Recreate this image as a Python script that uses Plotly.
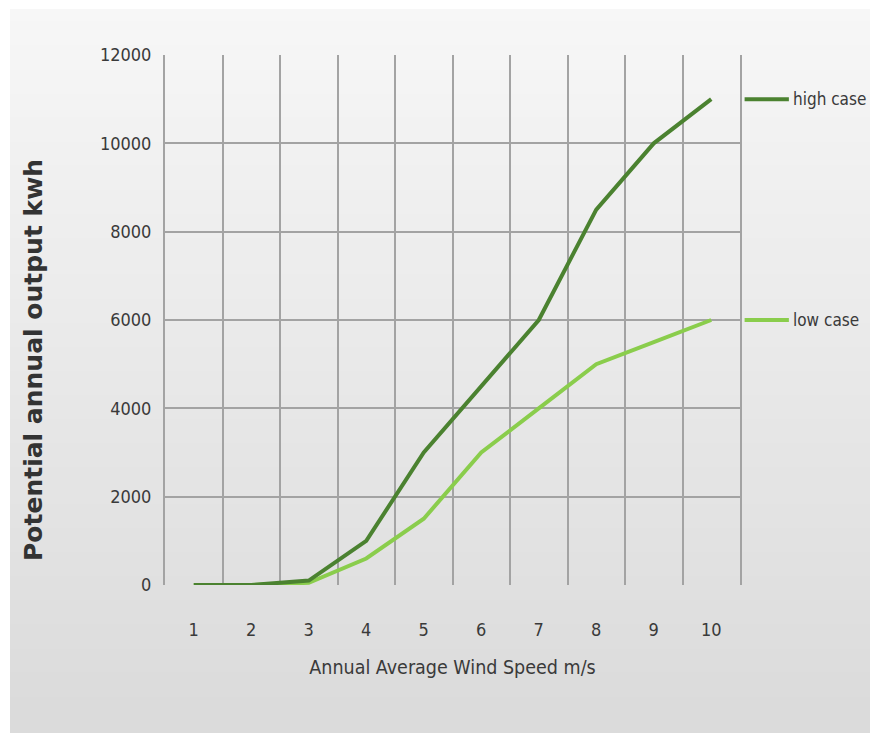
import plotly.graph_objects as go

wind_speed = [1, 2, 3, 4, 5, 6, 7, 8, 9, 10]
high_case = [0, 0, 100, 1000, 3000, 4500, 6000, 8500, 10000, 11000]
low_case = [0, 0, 50, 600, 1500, 3000, 4000, 5000, 5500, 6000]
y_ticks = [0, 2000, 4000, 6000, 8000, 10000, 12000]

HIGH_COLOR = "#4b8230"
LOW_COLOR = "#8acd4c"
GRID = "#a3a3a3"
NARROW = "DejaVu Sans Condensed, Liberation Sans Narrow, sans-serif"

fig = go.Figure()
fig.add_trace(go.Scatter(x=wind_speed, y=low_case, mode="lines", name="low case",
                         line=dict(color=LOW_COLOR, width=4), showlegend=False))
fig.add_trace(go.Scatter(x=wind_speed, y=high_case, mode="lines", name="high case",
                         line=dict(color=HIGH_COLOR, width=4), showlegend=False))

# gradient background made of horizontal bands
W, H = 872, 725
L, R, T, B = 157, 140, 47, 148
pw, ph = W - L - R, H - T - B
gx0, gx1 = (2 - L) / pw, (862 - L) / pw
gy_top, gy_bot = (H - B - 2) / ph, (H - B - 726) / ph
shapes = []
n = 60
for i in range(n):
    t = i / (n - 1)
    c = int(247 - (247 - 219) * t)
    y0 = gy_top - (gy_top - gy_bot) * i / n
    y1 = gy_top - (gy_top - gy_bot) * (i + 1) / n
    shapes.append(dict(type="rect", xref="paper", yref="paper", x0=gx0, x1=gx1,
                       y0=y1, y1=y0 + 0.002, fillcolor=f"rgb({c},{c},{c})",
                       line=dict(width=0), layer="below"))

# legend line samples next to the series ends
for series, color in [(high_case, HIGH_COLOR), (low_case, LOW_COLOR)]:
    shapes.append(dict(type="line", xref="paper", yref="y", x0=1.008, x1=1.085,
                       y0=series[-1], y1=series[-1], line=dict(color=color, width=4)))

annotations = []
for series, label in [(high_case, "high case"), (low_case, "low case")]:
    annotations.append(dict(xref="paper", yref="y", x=1.088, y=series[-1], text=label,
                            showarrow=False, xanchor="left", yanchor="middle",
                            font=dict(family=NARROW, size=17, color="#3a3a3a")))

# y-axis title placed like the reference (slightly below plot centre)
annotations.append(dict(xref="paper", yref="paper", x=(25 - L) / pw, y=(H - B - 352) / ph,
                        text="<b>Potential annual output kwh</b>", textangle=-90,
                        showarrow=False, xanchor="center", yanchor="middle",
                        font=dict(family="DejaVu Sans", size=25, color="#333333")))

fig.update_layout(
    width=W, height=H,
    margin=dict(l=L, r=R, t=T, b=B),
    paper_bgcolor="white",
    plot_bgcolor="rgba(0,0,0,0)",
    shapes=shapes,
    annotations=annotations,
    xaxis=dict(
        range=[0.5, 10.5], tickmode="array", tickvals=wind_speed,
        ticktext=[str(v) for v in wind_speed],
        showgrid=False, zeroline=False, showline=False, ticks="",
        ticklabelstandoff=32,
        tickfont=dict(family=NARROW, size=18, color="#3a3a3a"),
        minor=dict(tick0=0.5, dtick=1, showgrid=True, gridcolor=GRID, gridwidth=2),
        title=dict(text="Annual Average Wind Speed m/s", standoff=21,
                   font=dict(family=NARROW, size=19.5, color="#3a3a3a")),
    ),
    yaxis=dict(
        range=[0, 12000], tickmode="array", tickvals=y_ticks,
        ticktext=[str(v) for v in y_ticks],
        showgrid=True, gridcolor=GRID, gridwidth=2, zeroline=False,
        showline=True, mirror=True, linecolor=GRID, linewidth=2, ticks="",
        ticklabelstandoff=8,
        tickfont=dict(family=NARROW, size=18, color="#3a3a3a"),
    ),
)

fig.write_html("out.html")
